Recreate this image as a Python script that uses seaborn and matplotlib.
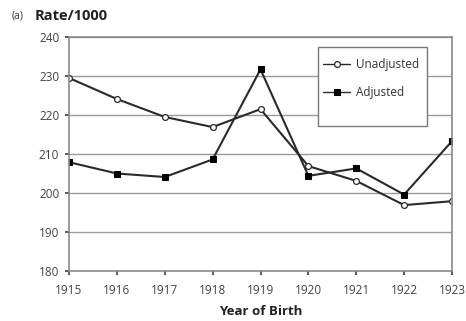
import matplotlib
matplotlib.use("Agg")
import matplotlib.pyplot as plt
from matplotlib.patches import Rectangle
import seaborn as sns
import pandas as pd

years = [1915, 1916, 1917, 1918, 1919, 1920, 1921, 1922, 1923]
unadjusted = [229.5, 224.1, 219.5, 216.9, 221.5, 206.9, 203.1, 196.9, 197.9]
adjusted = [207.9, 205.0, 204.1, 208.6, 231.7, 204.4, 206.3, 199.6, 213.3]
y_ticks = [180, 190, 200, 210, 220, 230, 240]

sns.set_theme(style="white")
plt.rcParams["font.family"] = ["Open Sans", "DejaVu Sans"]

df = pd.DataFrame({"year": years * 2,
                   "rate": unadjusted + adjusted,
                   "series": ["Unadjusted"] * len(years) + ["Adjusted"] * len(years)})

W, H = 466, 321
fig = plt.figure(figsize=(W / 100, H / 100), dpi=100)
ax = fig.add_axes([69 / W, 1 - 271 / H, (452 - 69) / W, (271 - 37) / H])

line_color = "#2a2a2a"
for y in y_ticks:
    ax.axhline(y, color="#9a9a9a", lw=1.0, zorder=0)

sns.lineplot(data=df[df.series == "Unadjusted"], x="year", y="rate", ax=ax,
             color=line_color, lw=1.5, marker="o", markersize=4.2,
             markerfacecolor="white", markeredgecolor=line_color, markeredgewidth=0.9,
             label="Unadjusted")
sns.lineplot(data=df[df.series == "Adjusted"], x="year", y="rate", ax=ax,
             color=line_color, lw=1.5, marker="s", markersize=4.2,
             markerfacecolor="black", markeredgecolor="black",
             label="Adjusted")

ax.set_xlim(1915, 1923)
ax.set_ylim(180, 240)
ax.set_xticks(years)
ax.set_yticks(y_ticks)
ax.tick_params(axis="both", labelsize=8.5, colors="#444444", length=3, direction="out",
               bottom=True, left=True, pad=4)
ax.tick_params(axis="x", pad=6)
for s in ax.spines.values():
    s.set_color("#8a8a8a")
    s.set_linewidth(1.2)
ax.set_xlabel("Year of Birth", fontsize=9.5, fontweight="bold", color="#222222", labelpad=6)
ax.set_ylabel("")

fig.text(12 / W, 1 - 16 / H, "(a)", fontsize=7.5, color="#333333", va="center")
fig.text(35 / W, 1 - 16 / H, "Rate/1000", fontsize=10.5, fontweight="bold",
         color="#222222", va="center")

# legend box: white panel with a grey outline, entries placed inside it
box = Rectangle((318 / W, 1 - 126 / H), (427 - 318) / W, (126 - 47) / H,
                transform=fig.transFigure, facecolor="white", edgecolor="#777777",
                lw=1.0, zorder=5)
fig.patches.append(box)
leg = fig.legend(*ax.get_legend_handles_labels(), loc="upper left",
                 bbox_to_anchor=(323 / W, 1 - 58 / H), frameon=False,
                 fontsize=8.5, handlelength=2.3, borderpad=0, borderaxespad=0,
                 labelspacing=1.25, handletextpad=0.5)
leg.set_zorder(6)
ax.get_legend().remove()
for t in leg.get_texts():
    t.set_color("#333333")
for h in leg.get_lines():
    h.set_linewidth(1.0)

fig.savefig("out.png", dpi=100, facecolor="white")
